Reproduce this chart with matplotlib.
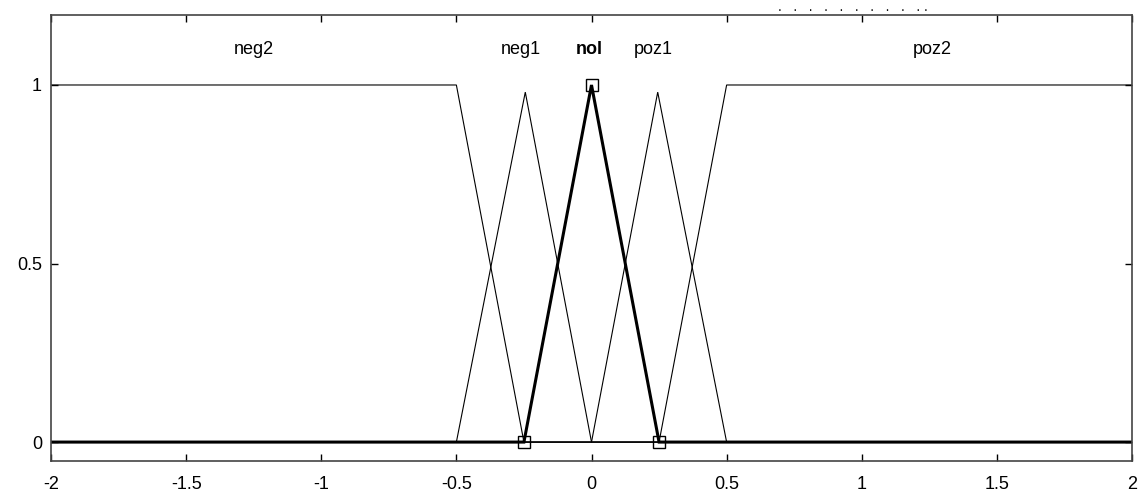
import matplotlib
matplotlib.use("Agg")
import matplotlib.pyplot as plt

# Membership functions of the input variable (breakpoints and grades)
mf_names = ["neg2", "neg1", "nol", "poz1", "poz2"]
neg2_x = [-2.0, -0.5, -0.25, 2.0]
neg2_y = [1.0, 1.0, 0.0, 0.0]
neg1_x = [-2.0, -0.5, -0.245, 0.0, 2.0]
neg1_y = [0.0, 0.0, 0.98, 0.0, 0.0]
nol_x = [-2.0, -0.25, 0.0, 0.25, 2.0]
nol_y = [0.0, 0.0, 1.0, 0.0, 0.0]
poz1_x = [-2.0, 0.0, 0.245, 0.5, 2.0]
poz1_y = [0.0, 0.0, 0.98, 0.0, 0.0]
poz2_x = [-2.0, 0.25, 0.5, 2.0]
poz2_y = [0.0, 0.0, 1.0, 1.0]

# Parameter handles of the selected function
nol_params_x = [-0.25, 0.0, 0.25]
nol_params_y = [0.0, 1.0, 0.0]

# Label anchors above each function
label_x = [-1.25, -0.26, -0.01, 0.23, 1.26]
label_y = 1.1

x_ticks = [-2, -1.5, -1, -0.5, 0, 0.5, 1, 1.5, 2]
x_tick_labels = ["-2", "-1.5", "-1", "-0.5", "0", "0.5", "1", "1.5", "2"]
y_ticks = [0, 0.5, 1]
y_tick_labels = ["0", "0.5", "1"]

plt.rcParams["font.family"] = ["Liberation Sans", "DejaVu Sans"]

fig = plt.figure(figsize=(11.46, 4.96), dpi=100)
ax = fig.add_axes([51 / 1146, 1 - 461 / 496, (1132 - 51) / 1146, (461 - 15) / 496])

thin = 0.8
for xs, ys in [(neg2_x, neg2_y), (neg1_x, neg1_y), (poz1_x, poz1_y), (poz2_x, poz2_y)]:
    ax.plot(xs, ys, color="black", lw=thin, solid_joinstyle="miter")

ax.plot(nol_x, nol_y, color="black", lw=2.2, solid_joinstyle="miter")
ax.plot(nol_params_x, nol_params_y, linestyle="none", marker="s", markersize=9,
        markerfacecolor="none", markeredgecolor="black", markeredgewidth=1.0)

for name, lx in zip(mf_names, label_x):
    ax.text(lx, label_y, name, ha="center", va="center", fontsize=13,
            fontweight="bold" if name == "nol" else "normal")

ax.set_xlim(-2, 2)
ax.set_ylim(-0.053, 1.196)
ax.set_xticks(x_ticks)
ax.set_xticklabels(x_tick_labels)
ax.set_yticks(y_ticks)
ax.set_yticklabels(y_tick_labels)
ax.tick_params(direction="in", length=5, width=1, labelsize=13,
               top=True, right=True, color="black")
ax.tick_params(axis="x", pad=11)
ax.tick_params(axis="y", pad=6.5)
for sp in ax.spines.values():
    sp.set_color("#444444")
    sp.set_linewidth(1.2)

fig.text(0.679, 0.986, ".   .   .   .   .   .   .   .   .   . .", fontsize=10,
         ha="left", va="center", color="#111111")

fig.savefig("out.png", dpi=100, facecolor="white")
